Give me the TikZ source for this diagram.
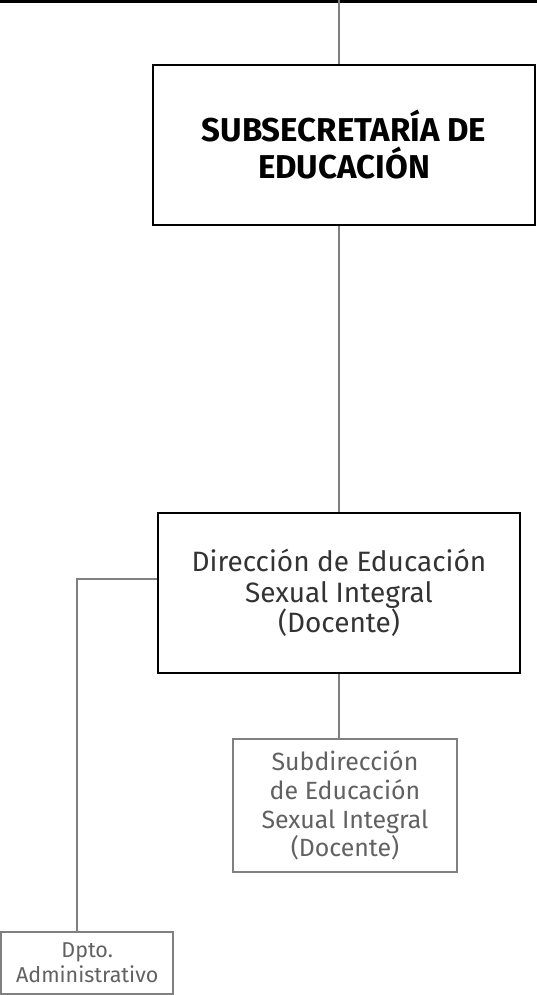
\documentclass[tikz,border=0pt]{standalone}
\usepackage{fontspec}
\setmainfont{Fira Sans}
\colorlet{linegray}{black!50}
\colorlet{textdark}{black!80}
\colorlet{textgray}{black!62}
\newcommand{\fsz}[2]{\fontsize{#1}{#2}\selectfont}

\begin{document}
\begin{tikzpicture}[x=1pt,y=-1pt]
\useasboundingbox (0,0) rectangle (537,995);
\tikzset{orgbox/.style ={align=center, inner sep=0pt, line width=2.8pt}}
\tikzset{headbox/.style ={orgbox, draw=black, text=black, minimum width=382pt, minimum height=160pt, font=\bfseries\fsz{33}{37}}}
\tikzset{dirbox/.style ={orgbox, draw=black, text=textdark, minimum width=362pt, minimum height=160pt, font=\fsz{28}{30.5}}}
\tikzset{unitbox/.style ={orgbox, draw=linegray, text=textgray, line width=2.4pt}}
\tikzset{wire/.style ={draw=linegray, line width=2.8pt}}
\node[headbox] (subsec) at (344,145) {SUBSECRETARÍA DE\\EDUCACIÓN};
\node[dirbox] (dir) at (339,593) {Dirección de Educación\\Sexual Integral\\(Docente)};
\node[unitbox, minimum width=224pt, minimum height=133pt, font=\fsz{24.9}{28.7}] (subdir) at (345,805.5) {Subdirección\\de Educación\\Sexual Integral\\(Docente)};
\node[unitbox, minimum width=172pt, minimum height=62pt, font=\fsz{21.5}{25}] (dpto) at (87.2,963) {Dpto.\\Administrativo};
\coordinate (topleft) at (0,1.2);
\coordinate (topright) at (537,1.2);
\coordinate (trunk) at (339,0);
\coordinate (elbow) at (77,579);
\draw[black, line width=2.8pt] (topleft) -- (topright);
\draw[wire] (trunk) -- (trunk |- subsec.north);
\draw[wire] (trunk |- subsec.south) -- (dir.north);
\draw[wire] (dir.south) -- (dir.south |- subdir.north);
\draw[wire] (dir.west |- elbow) -- (elbow) -- (elbow |- dpto.north);
\end{tikzpicture}
\end{document}
